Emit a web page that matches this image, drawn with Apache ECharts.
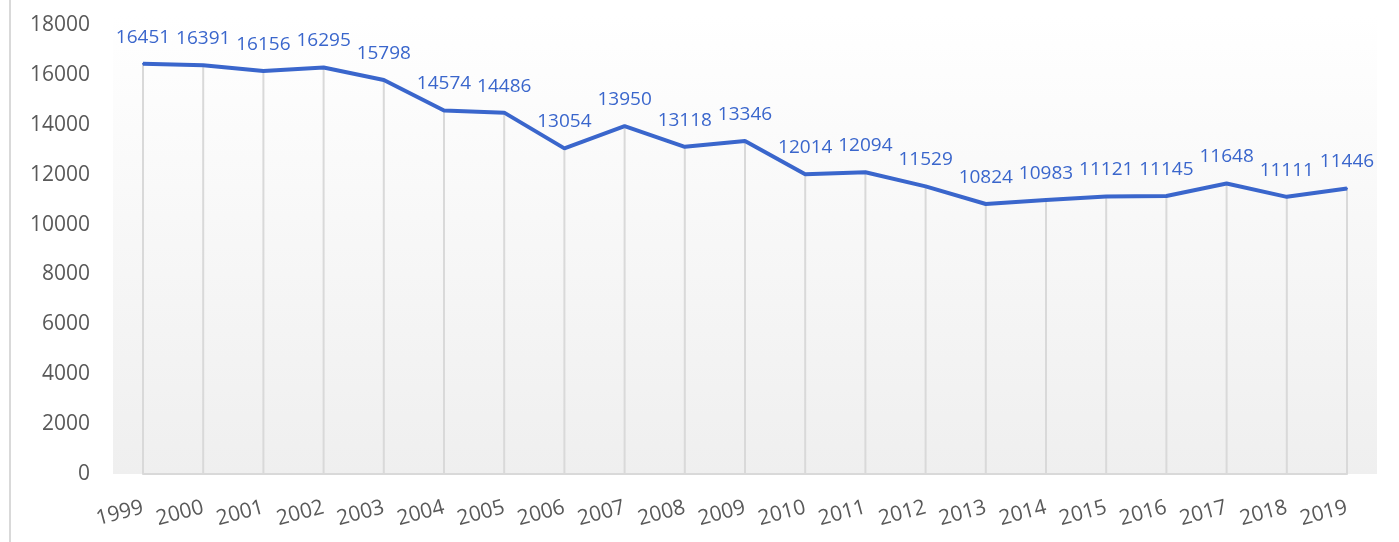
<!DOCTYPE html>
<html>
<head>
<meta charset="utf-8">
<style>
html,body{margin:0;padding:0;background:#fff;}
#chart{width:1399px;height:542px;}
</style>
<script src="https://cdn.jsdelivr.net/npm/echarts@6/dist/echarts.min.js"></script>
</head>
<body>
<div id="chart"></div>
<script>
const years = ['1999','2000','2001','2002','2003','2004','2005','2006','2007','2008','2009','2010','2011','2012','2013','2014','2015','2016','2017','2018','2019'];
const values = [16451,16391,16156,16295,15798,14574,14486,13054,13950,13118,13346,12014,12094,11529,10824,10983,11121,11145,11648,11111,11446];
const yTicks = [0,2000,4000,6000,8000,10000,12000,14000,16000,18000];

const FONT = '"Open Sans", Calibri, sans-serif';
const chart = echarts.init(document.getElementById('chart'), null, {renderer:'canvas'});
chart.setOption({
  animation:false,
  backgroundColor:'#ffffff',
  graphic:[
    {type:'rect', left:113, top:15, shape:{width:1264, height:459}, z:-10, silent:true,
     style:{fill:new echarts.graphic.LinearGradient(0,0,0,1,[{offset:0,color:'#ffffff'},{offset:1,color:'#efefef'}])}},
    {type:'rect', left:9, top:0, shape:{width:2, height:542}, z:-10, silent:true, style:{fill:'#d9d9d9'}}
  ],
  grid:{left:143, right:52, top:25, bottom:68, containLabel:false},
  xAxis:{
    type:'category', data:years, boundaryGap:false,
    axisLine:{show:true, lineStyle:{color:'#d9d9d9', width:2}},
    axisTick:{show:false},
    splitLine:{show:false},
    axisLabel:{rotate:15, margin:33, color:'#595959', fontSize:21, fontFamily:FONT, interval:0}
  },
  yAxis:{
    type:'value', min:yTicks[0], max:yTicks[yTicks.length-1], interval:2000,
    axisLine:{show:false}, axisTick:{show:false}, splitLine:{show:false},
    axisLabel:{margin:53, color:'#595959', fontSize:21, fontFamily:FONT, formatter:function(v){return String(v);}}
  },
  series:[
    {type:'bar', data:values, barWidth:2, itemStyle:{color:'#d9d9d9'}, silent:true, z:1},
    {type:'line', data:values, symbol:'circle', symbolSize:2, showSymbol:true, z:3,
     itemStyle:{color:'#3a66cc'},
     lineStyle:{color:'#3a66cc', width:4},
     label:{show:true, position:'top', distance:16, color:'#3a66cc', fontSize:19, fontFamily:FONT}}
  ]
});
</script>
</body>
</html>
